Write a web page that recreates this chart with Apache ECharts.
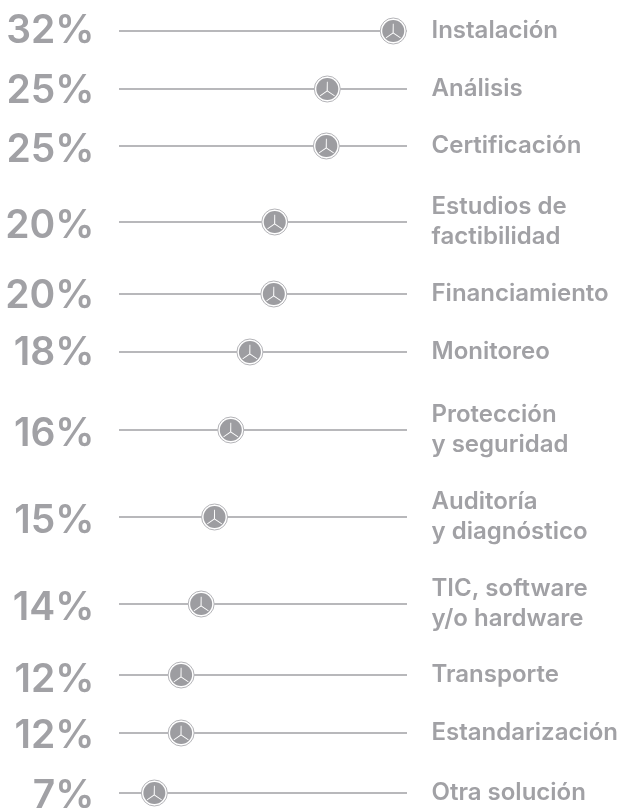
<!DOCTYPE html>
<html>
<head>
<meta charset="utf-8">
<script src="https://cdn.jsdelivr.net/npm/echarts@6/dist/echarts.min.js"></script>
<style>
  html, body { margin: 0; padding: 0; background: #fff; }
  #chart { width: 628px; height: 808px; }
</style>
</head>
<body>
<div id="chart"></div>
<script>
// datos
var categories = ['Instalación', 'Análisis', 'Certificación', 'Estudios de\nfactibilidad', 'Financiamiento', 'Monitoreo',
  'Protección\ny seguridad', 'Auditoría\ny diagnóstico', 'TIC, software\ny/o hardware', 'Transporte', 'Estandarización', 'Otra solución'];
var percentLabels = [32, 25, 25, 20, 20, 18, 16, 15, 14, 12, 12, 7];
// the markers do not sit exactly on a linear scale of the printed number
var markerValues = [32, 25.1, 25, 19.6, 19.5, 17, 15, 13.3, 11.9, 9.8, 9.8, 7];

// filas con separacion desigual (px), y ajuste vertical del porcentaje
var rowY = [31, 89, 146, 222, 294, 352, 430, 517, 604, 675, 733, 793];
var percentShift = [0, 2, 4, 4, 2, 1, 4, 4, 4, 5, 3, 3];
var axisMin = 3.3, axisMax = 33.44;
var grey = '#a1a1a5';

var fan = 'path://M48 50 L49 8 L53 8 L53 50 Z M50 48 L86 72 L84 76 L49 53 Z M51 48 L52 53 L18 76 L16 72 Z';

var chart = echarts.init(document.getElementById('chart'), null, { renderer: 'canvas' });

var series = [];
categories.forEach(function (name, i) {
  series.push({
    type: 'line',
    silent: true,
    clip: false,
    symbol: 'none',
    z: 1,
    lineStyle: { color: '#a0a0a4', width: 1.3 },
    data: [[axisMin, rowY[i]], [axisMax, rowY[i]]]
  });
});

// etiquetas de porcentaje y de categoria, ancladas a los extremos de cada linea
series.push({
  type: 'scatter', silent: true, clip: false, z: 5, symbolSize: 1,
  itemStyle: { color: 'transparent', opacity: 1 },
  data: rowY.map(function (y, i) {
    return {
      value: [axisMin, y],
      label: {
        show: true, position: 'left', distance: 24, fontSize: 39, fontWeight: 600,
        color: grey, fontFamily: 'Inter', offset: [0, percentShift[i]],
        formatter: percentLabels[i] + '%'
      }
    };
  })
});
series.push({
  type: 'scatter', silent: true, clip: false, z: 5, symbolSize: 1,
  itemStyle: { color: 'transparent', opacity: 1 },
  label: {
    show: true, position: 'right', distance: 24, fontSize: 24, fontWeight: 600, lineHeight: 30,
    color: grey, fontFamily: 'Inter', align: 'left', offset: [0, 0],
    formatter: function (p) { return categories[p.dataIndex]; }
  },
  data: rowY.map(function (y) { return [axisMax, y]; })
});

var points = markerValues.map(function (v, i) { return [v, rowY[i]]; });
series.push({
  type: 'scatter', silent: true, clip: false, z: 2, symbol: 'circle', symbolSize: 26,
  itemStyle: { color: '#fff', borderColor: '#b4b4b8', borderWidth: 1, opacity: 1 }, data: points
});
series.push({
  type: 'scatter', silent: true, clip: false, z: 3, symbol: 'circle', symbolSize: 22,
  itemStyle: { color: '#9d9da1', opacity: 1 }, data: points
});
series.push({
  type: 'scatter', silent: true, clip: false, z: 4, symbol: fan, symbolSize: 15, symbolKeepAspect: true,
  itemStyle: { color: '#fff', opacity: 1 }, data: points
});

chart.setOption({
  animation: false,
  backgroundColor: '#fff',
  grid: { left: 119, width: 288, top: 0, height: 808 },
  xAxis: { type: 'value', min: axisMin, max: axisMax, show: false },
  yAxis: { type: 'value', min: 0, max: 808, inverse: true, show: false },
  series: series
});
</script>
</body>
</html>
